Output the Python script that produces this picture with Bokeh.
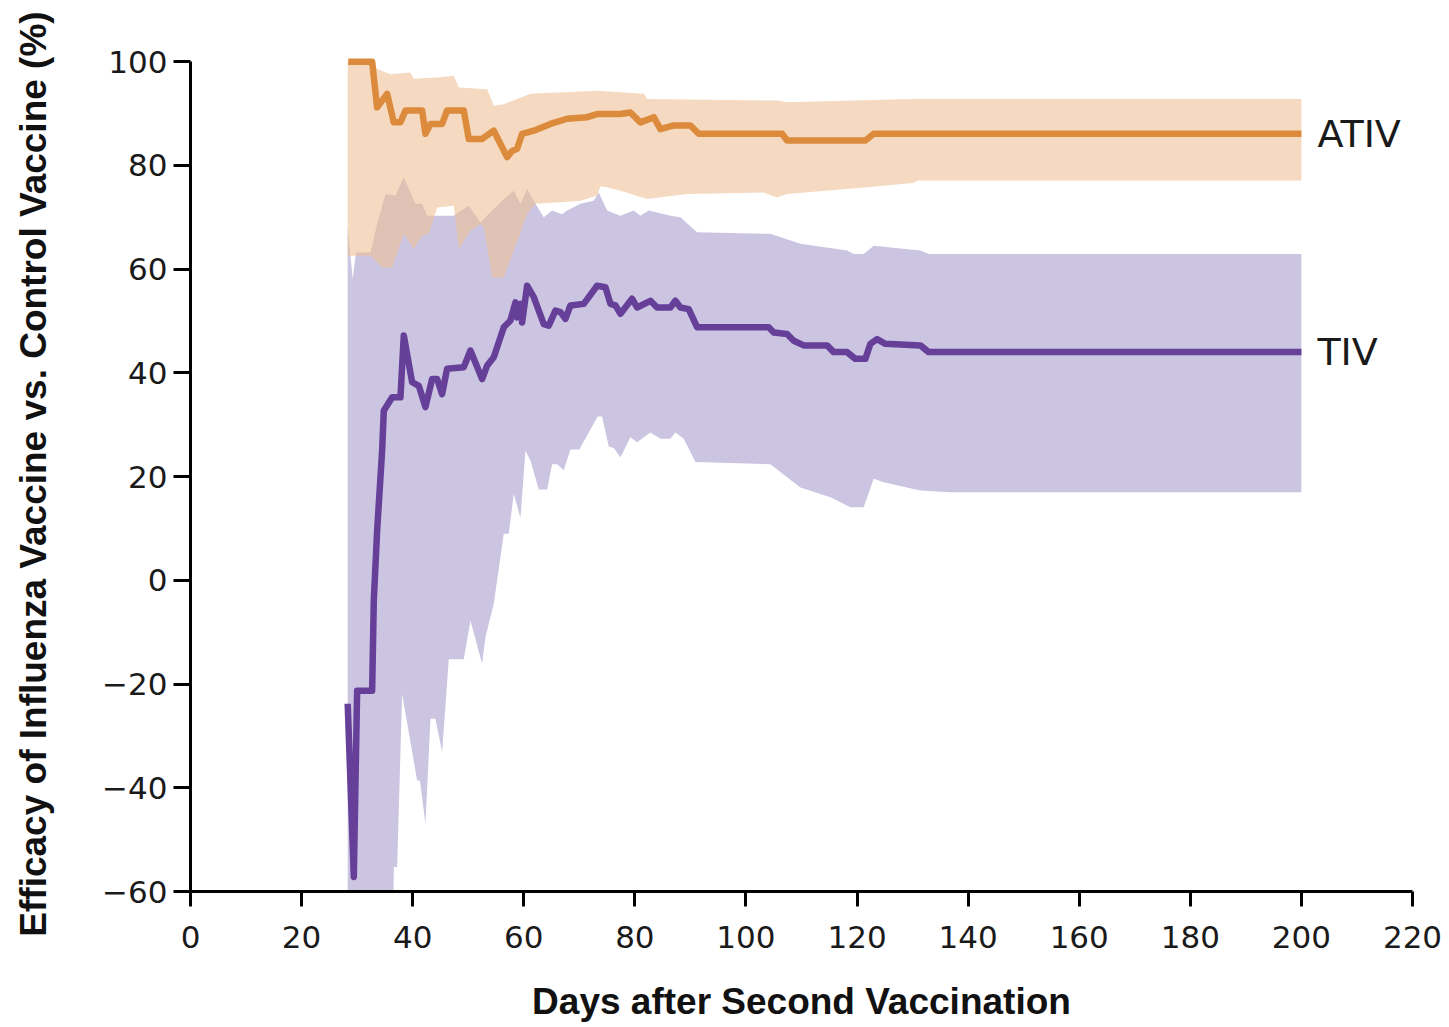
from bokeh.plotting import figure
from bokeh.models import Range1d, CustomJSTickFormatter, FixedTicker
from bokeh.embed import file_html
from bokeh.resources import INLINE
from bokeh.core.properties import value

# ---------------- data ----------------
x_ticks = [0, 20, 40, 60, 80, 100, 120, 140, 160, 180, 200, 220]
y_ticks = [-60, -40, -20, 0, 20, 40, 60, 80, 100]

ativ_day = [28.4, 32.7, 33.6, 35.4, 36.6, 37.8, 38.7, 41.7, 42.3, 43.2, 45.3, 46.2, 49.2, 50.1,
            52.5, 54.6, 57.0, 57.9, 58.8, 59.7, 61.8, 64.8, 67.8, 71.4, 73.2, 77.4, 79.2, 81.0,
            83.4, 84.6, 87.0, 90.0, 91.5, 106.5, 107.4, 121.5, 123.0, 200]
ativ_eff = [100, 100, 91.2, 93.8, 88.3, 88.3, 90.6, 90.6, 86.1, 88.0, 88.0, 90.6, 90.6, 85.1,
            85.1, 86.7, 81.6, 82.8, 83.2, 86.1, 86.7, 88.0, 89.0, 89.3, 89.9, 89.9, 90.2, 88.3,
            89.3, 87.0, 87.7, 87.7, 86.1, 86.1, 84.8, 84.8, 86.1, 86.1]

ativ_upper_day = [28.3, 32.7, 33.6, 36.0, 39.6, 40.2, 45.0, 47.4, 48.3, 53.4, 54.6, 56.4, 61.2,
                  73.2, 81.6, 82.2, 105.6, 107.4, 130.0, 200]
ativ_upper = [100, 100, 98.6, 97.6, 97.9, 96.7, 97.0, 97.3, 95.0, 94.7, 91.5, 91.8, 93.8,
              94.4, 93.8, 92.8, 92.5, 92.2, 92.8, 92.8]

ativ_lower_day = [28.3, 32.4, 34.5, 36.3, 38.4, 40.2, 41.7, 42.9, 44.4, 47.4, 48.3, 50.4, 52.2,
                  52.8, 54.3, 56.4, 58.2, 60.6, 62.1, 66.6, 70.2, 73.2, 73.8, 75.0, 77.4, 82.2,
                  89.4, 103.2, 105.6, 107.4, 121.8, 130.0, 131.0, 200]
ativ_lower = [62.6, 62.6, 60.3, 60.3, 66.8, 63.9, 66.5, 66.8, 71.9, 72.2, 63.9, 67.4, 68.7,
              68.1, 58.4, 58.4, 63.6, 70.6, 72.6, 72.9, 73.2, 74.2, 76.0, 75.8, 75.1, 73.5,
              74.5, 74.8, 73.8, 74.5, 75.8, 76.6, 77.1, 77.1]

tiv_day = [28.3, 29.4, 30.0, 32.7, 33.0, 33.6, 34.5, 34.8, 36.3, 37.8, 38.4, 39.9, 41.1, 42.3,
           43.5, 44.4, 45.3, 46.2, 49.2, 50.4, 52.5, 53.4, 54.6, 56.4, 57.6, 58.5, 58.8, 59.4,
           59.7, 60.6, 61.8, 63.6, 64.5, 65.7, 66.6, 67.5, 68.4, 70.8, 73.2, 74.7, 75.6, 76.5,
           77.4, 79.5, 80.4, 82.8, 84.0, 86.4, 87.3, 88.2, 89.7, 91.2, 104.1, 105.0, 107.4,
           108.6, 110.4, 114.6, 115.8, 118.2, 119.7, 121.5, 122.4, 123.6, 125.1, 131.4, 132.9, 200]
tiv_eff = [-23.8, -57.2, -21.3, -21.3, -3.9, 9.6, 25.0, 32.7, 35.3, 35.3, 47.2, 38.2, 37.5, 33.4,
           38.8, 38.8, 35.9, 40.8, 41.1, 44.3, 38.8, 41.4, 43.0, 48.8, 50.1, 53.6, 50.7, 53.3,
           49.7, 56.8, 54.6, 49.4, 49.1, 52.0, 51.7, 50.4, 53.0, 53.3, 56.8, 56.5, 53.3, 53.0,
           51.4, 54.3, 52.6, 53.9, 52.6, 52.6, 53.9, 52.6, 52.3, 48.8, 48.8, 47.8, 47.5,
           46.2, 45.3, 45.3, 44.0, 44.0, 42.7, 42.7, 45.6, 46.5, 45.6, 45.3, 44.0, 44.0]

tiv_upper_day = [28.3, 29.2, 29.8, 32.4, 33.6, 35.1, 36.9, 38.4, 40.5, 41.7, 42.6, 47.4, 47.7,
                 50.1, 52.2, 53.1, 56.4, 58.2, 59.4, 60.6, 62.1, 63.6, 65.1, 66.9, 67.8, 70.2,
                 72.6, 73.5, 75.0, 77.4, 79.8, 81.0, 82.5, 86.4, 88.2, 91.2, 104.4, 109.8,
                 118.2, 119.4, 121.2, 123.0, 131.4, 132.9, 200]
tiv_upper = [68.1, 58.1, 63.2, 63.2, 68.7, 74.5, 74.2, 77.7, 72.6, 72.6, 70.3, 70.3, 70.6,
             72.2, 69.0, 70.0, 73.5, 75.1, 72.6, 75.5, 72.6, 70.0, 71.3, 70.6, 71.3, 72.6,
             73.2, 74.8, 71.3, 70.3, 71.3, 70.3, 71.3, 70.3, 70.0, 67.1, 66.8, 64.9,
             63.6, 62.9, 62.9, 64.5, 63.6, 62.9, 62.9]

tiv_lower_day = [28.3, 36.3, 36.6, 37.2, 38.1, 40.8, 41.3, 42.3, 43.2, 44.1, 45.3, 46.5, 49.2,
                 50.4, 52.5, 53.1, 54.6, 56.4, 57.3, 58.2, 59.4, 60.3, 61.2, 62.7, 64.2, 65.1,
                 66.0, 67.2, 68.4, 70.0, 73.3, 74.1, 75.3, 76.2, 77.4, 79.2, 80.4, 82.8, 84.6,
                 86.4, 87.3, 88.8, 90.9, 104.4, 109.8, 115.2, 118.8, 121.2, 123.0, 124.8,
                 131.4, 136.8, 200]
tiv_lower = [-80, -80, -55.3, -55.3, -21.9, -38.6, -38.6, -47.0, -26.7, -26.7, -33.1, -15.2, -15.2,
             -7.8, -16.1, -11.0, -4.5, 9.0, 9.0, 16.7, 12.0, 25.0, 23.1, 17.5, 17.5, 22.4,
             22.4, 21.2, 25.2, 25.2, 31.6, 31.6, 25.8, 25.5, 23.7, 27.6, 26.6, 28.5, 27.3,
             27.3, 28.5, 27.3, 22.8, 22.4, 17.9, 16.0, 14.1, 14.1, 19.6, 18.9,
             17.3, 17.0, 17.0]

series_labels = ["ATIV", "TIV"]

# ---------------- figure ----------------
p = figure(width=1449, height=1027,
           x_range=Range1d(0, 220), y_range=Range1d(-60, 101),
           output_backend="svg", toolbar_location=None,
           min_border_left=190, min_border_right=37,
           min_border_top=56, min_border_bottom=136)
p.xgrid.visible = False
p.ygrid.visible = False
p.outline_line_color = None
p.background_fill_color = "white"
p.border_fill_color = "white"

# confidence bands
tiv_xs = tiv_upper_day + tiv_lower_day[::-1]
tiv_ys = tiv_upper + tiv_lower[::-1]
p.patch(tiv_xs, tiv_ys, fill_color="#CBC5E2", line_color=None)

ativ_xs = ativ_upper_day + ativ_lower_day[::-1]
ativ_ys = ativ_upper + ativ_lower[::-1]
p.patch(ativ_xs, ativ_ys, fill_color="#EEC096", fill_alpha=0.6, line_color=None)

# lines
p.line(tiv_day, tiv_eff, line_color="#663F99", line_width=6.5, line_join="round")
p.line(ativ_day, ativ_eff, line_color="#DB8B3B", line_width=6.5, line_join="round")

# end labels
p.text(x=[ativ_day[-1], tiv_day[-1]], y=[ativ_eff[-1], tiv_eff[-1]], text=series_labels,
       x_offset=16, text_baseline="middle", text_align="left",
       text_font=value("DejaVu Sans"), text_font_size="38px", text_color="#1a1a1a")

# axes
minus_fmt = CustomJSTickFormatter(code="return tick < 0 ? '\u2212' + Math.abs(tick) : String(tick);")
for ax, ticks in ((p.xaxis[0], x_ticks), (p.yaxis[0], y_ticks)):
    ax.ticker = FixedTicker(ticks=ticks)
    ax.formatter = minus_fmt
    ax.axis_line_width = 3
    ax.axis_line_color = "black"
    ax.major_tick_line_width = 3
    ax.major_tick_line_color = "black"
    ax.major_tick_in = 0
    ax.minor_tick_line_color = None
    ax.major_label_text_font = "DejaVu Sans"
    ax.major_label_text_font_size = "31px"
    ax.major_label_text_color = "#1a1a1a"
    ax.axis_label_text_font = "Liberation Sans"
    ax.axis_label_text_font_style = "bold"
    ax.axis_label_text_font_size = "37px"
    ax.axis_label_text_color = "#111111"

p.yaxis.bounds = (-60, 100)
p.xaxis.major_tick_out = 15
p.yaxis.major_tick_out = 17
p.xaxis.major_label_standoff = 19
p.yaxis.major_label_standoff = 6
p.xaxis.axis_label = "Days after Second Vaccination"
p.yaxis.axis_label = "Efficacy of Influenza Vaccine vs. Control Vaccine (%)"
p.xaxis.axis_label_standoff = 30
p.yaxis.axis_label_standoff = 45

open("out.html", "w").write(file_html(p, INLINE))
